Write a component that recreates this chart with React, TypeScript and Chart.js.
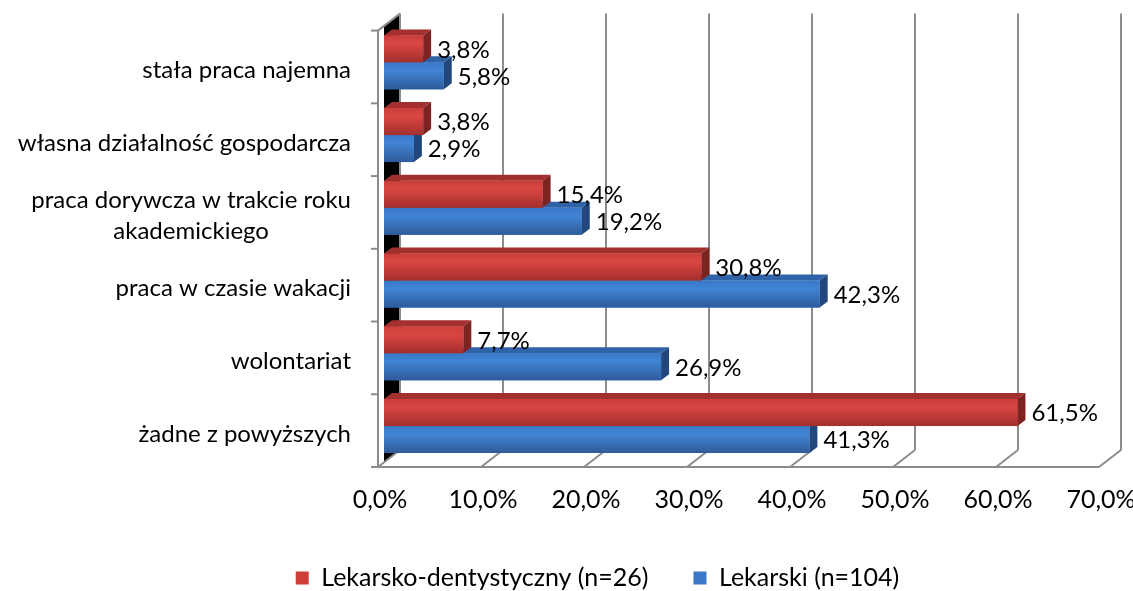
import React, { useEffect, useRef } from 'react';
import { Chart, registerables } from 'chart.js';

Chart.register(...registerables);

// ---------- data ----------
const categories: string[][] = [
  ['stała praca najemna'],
  ['własna działalność gospodarcza'],
  ['praca dorywcza w trakcie roku', 'akademickiego'],
  ['praca w czasie wakacji'],
  ['wolontariat'],
  ['żadne z powyższych'],
];
const seriesNames = ['Lekarsko-dentystyczny (n=26)', 'Lekarski (n=104)'];
const dentalValues = [3.8, 3.8, 15.4, 30.8, 7.7, 61.5];
const medicalValues = [5.8, 2.9, 19.2, 42.3, 26.9, 41.3];
const xTickValues = [0, 10, 20, 30, 40, 50, 60, 70];

// ---------- style ----------
const FONT = 'Lato, "Noto Sans", sans-serif';
const LABEL_SIZE = 24;
const AXIS_SIZE = 25;
const GRID = '#8c8c8c';
const FRONT = { dx: -6, dy: 4.6 };
const BACK = { dx: 16, dy: -12.4 };
const BAR_D = { dx: 8, dy: -6 };

const palettes = [
  { stops: ['#c93f3b', '#d94643', '#a32f2c'], top: '#a3302e', side: '#7d2321', solid: '#cc3f3b' },
  { stops: ['#3a78c8', '#4184d4', '#2d5b9a'], top: '#2f62a6', side: '#21477c', solid: '#3b79c8' },
];

const fmt = (v: number) => v.toFixed(1).replace('.', ',') + '%';

const threeD = {
  id: 'threeD',
  beforeDatasetsDraw(chart: any) {
    const { ctx, chartArea: a, scales } = chart;
    const x = scales.x;
    const y = scales.y;
    ctx.save();
    // left side wall (black)
    ctx.fillStyle = '#000';
    ctx.beginPath();
    ctx.moveTo(a.left, a.top);
    ctx.lineTo(a.left + BACK.dx - 1, a.top + BACK.dy + 0.8);
    ctx.lineTo(a.left + BACK.dx - 1, a.bottom + BACK.dy + 0.8);
    ctx.lineTo(a.left, a.bottom);
    ctx.closePath();
    ctx.fill();

    ctx.strokeStyle = GRID;
    ctx.lineWidth = 2;
    ctx.lineCap = 'butt';
    const line = (x1: number, y1: number, x2: number, y2: number) => {
      ctx.beginPath();
      ctx.moveTo(x1, y1);
      ctx.lineTo(x2, y2);
      ctx.stroke();
    };
    // back wall gridlines + floor diagonals
    for (const v of xTickValues) {
      const X = x.getPixelForValue(v);
      line(X + BACK.dx, a.top + BACK.dy, X + BACK.dx, a.bottom + BACK.dy);
      line(X + FRONT.dx, a.bottom + FRONT.dy, X + BACK.dx, a.bottom + BACK.dy);
    }
    // floor front edge
    const x0 = x.getPixelForValue(xTickValues[0]);
    const xN = x.getPixelForValue(xTickValues[xTickValues.length - 1]);
    line(x0 + FRONT.dx - 7, a.bottom + FRONT.dy, xN + FRONT.dx, a.bottom + FRONT.dy);
    // left axis (front edge of side wall) and its top edge
    line(x0 + FRONT.dx, a.top + FRONT.dy, x0 + FRONT.dx, a.bottom + FRONT.dy);
    line(x0 + FRONT.dx, a.top + FRONT.dy, x0 + BACK.dx, a.top + BACK.dy);
    // category tick marks
    for (let k = 0; k <= categories.length; k++) {
      const yy = y.getPixelForValue(k - 0.5) + FRONT.dy;
      line(x0 + FRONT.dx - 7, yy, x0 + FRONT.dx, yy);
    }
    ctx.restore();
  },
  afterDatasetsDraw(chart: any) {
    const { ctx } = chart;
    const metas = [chart.getDatasetMeta(0), chart.getDatasetMeta(1)];
    ctx.save();
    const drawBar = (el: any, p: any) => {
      const { x: end, y: cy, base, height } = el.getProps(['x', 'y', 'base', 'height'], true);
      const top = cy - height / 2;
      const bottom = cy + height / 2;
      // top face
      ctx.fillStyle = p.top;
      ctx.beginPath();
      ctx.moveTo(base, top);
      ctx.lineTo(end, top);
      ctx.lineTo(end + BAR_D.dx, top + BAR_D.dy);
      ctx.lineTo(base + BAR_D.dx, top + BAR_D.dy);
      ctx.closePath();
      ctx.fill();
      // side face
      ctx.fillStyle = p.side;
      ctx.beginPath();
      ctx.moveTo(end, top);
      ctx.lineTo(end + BAR_D.dx, top + BAR_D.dy);
      ctx.lineTo(end + BAR_D.dx, bottom + BAR_D.dy);
      ctx.lineTo(end, bottom);
      ctx.closePath();
      ctx.fill();
      // front face
      const g = ctx.createLinearGradient(0, top, 0, bottom);
      g.addColorStop(0, p.stops[0]);
      g.addColorStop(0.3, p.stops[1]);
      g.addColorStop(1, p.stops[2]);
      ctx.fillStyle = g;
      ctx.fillRect(base, top, end - base, height);
    };
    for (let i = 0; i < categories.length; i++) {
      drawBar(metas[1].data[i], palettes[1]);
      drawBar(metas[0].data[i], palettes[0]);
    }
    // value labels
    ctx.fillStyle = '#000';
    ctx.font = `${LABEL_SIZE}px ${FONT}`;
    ctx.textAlign = 'left';
    ctx.textBaseline = 'middle';
    metas.forEach((m: any, ds: number) => {
      const vals = ds === 0 ? dentalValues : medicalValues;
      m.data.forEach((el: any, i: number) => {
        const { x: end, y: cy } = el.getProps(['x', 'y'], true);
        ctx.fillText(fmt(vals[i]), end + 14, cy + 1);
      });
    });
    ctx.restore();
  },
  afterDraw(chart: any) {
    const { ctx, scales } = chart;
    const y = scales.y;
    ctx.save();
    ctx.fillStyle = '#000';
    ctx.font = `${LABEL_SIZE}px ${FONT}`;
    ctx.textBaseline = 'middle';
    ctx.textAlign = 'center';
    const right = 351;
    const lh = 31;
    categories.forEach((lines, i) => {
      const cy = y.getPixelForValue(i) + 8;
      const w = Math.max(...lines.map((l) => ctx.measureText(l).width));
      lines.forEach((l, j) => {
        ctx.fillText(l, right - w / 2, cy + (j - (lines.length - 1) / 2) * lh);
      });
    });
    ctx.restore();
  },
};

export default function App() {
  const ref = useRef<HTMLCanvasElement>(null);
  useEffect(() => {
    if (!ref.current) return;
    const font = { family: FONT, size: AXIS_SIZE };
    const chart = new Chart(ref.current, {
      type: 'bar',
      data: {
        labels: categories.map((c) => c.join(' ')),
        datasets: [
          {
            label: seriesNames[0],
            data: dentalValues,
            backgroundColor: palettes[0].solid,
            borderWidth: 0,
            categoryPercentage: 0.742,
            barPercentage: 1,
          },
          {
            label: seriesNames[1],
            data: medicalValues,
            backgroundColor: palettes[1].solid,
            borderWidth: 0,
            categoryPercentage: 0.742,
            barPercentage: 1,
          },
        ],
      },
      options: {
        indexAxis: 'y',
        responsive: false,
        animation: false,
        layout: { padding: { left: 90, right: 28, top: 26, bottom: -9.5 } },
        scales: {
          x: {
            min: 0,
            max: 70,
            ticks: {
              stepSize: 10,
              callback: (v: any) => fmt(Number(v)),
              font,
              color: '#000',
              padding: 23,
              labelOffset: -4,
              maxRotation: 0,
              autoSkip: false,
            },
            grid: { display: false, drawTicks: false },
            border: { display: false },
            afterFit: (s: any) => {
              s.height = 58.1;
              s.paddingLeft = 0;
              s.paddingRight = 0;
            },
          },
          y: {
            ticks: { display: false },
            grid: { display: false },
            border: { display: false },
            afterFit: (s: any) => {
              s.width = 294;
              s.paddingTop = 0;
              s.paddingBottom = 0;
            },
          },
        },
        plugins: {
          legend: {
            position: 'bottom',
            labels: { boxWidth: 13, boxHeight: 13, padding: 45, font, color: '#000' },
          },
          tooltip: { enabled: false },
        },
      } as any,
      plugins: [threeD],
    });
    return () => chart.destroy();
  }, []);
  return (
    <div style={{ position: 'absolute', left: 0, top: 0, width: 1133, height: 591 }}>
      <canvas ref={ref} width={1133} height={591} style={{ display: 'block' }} />
    </div>
  );
}
